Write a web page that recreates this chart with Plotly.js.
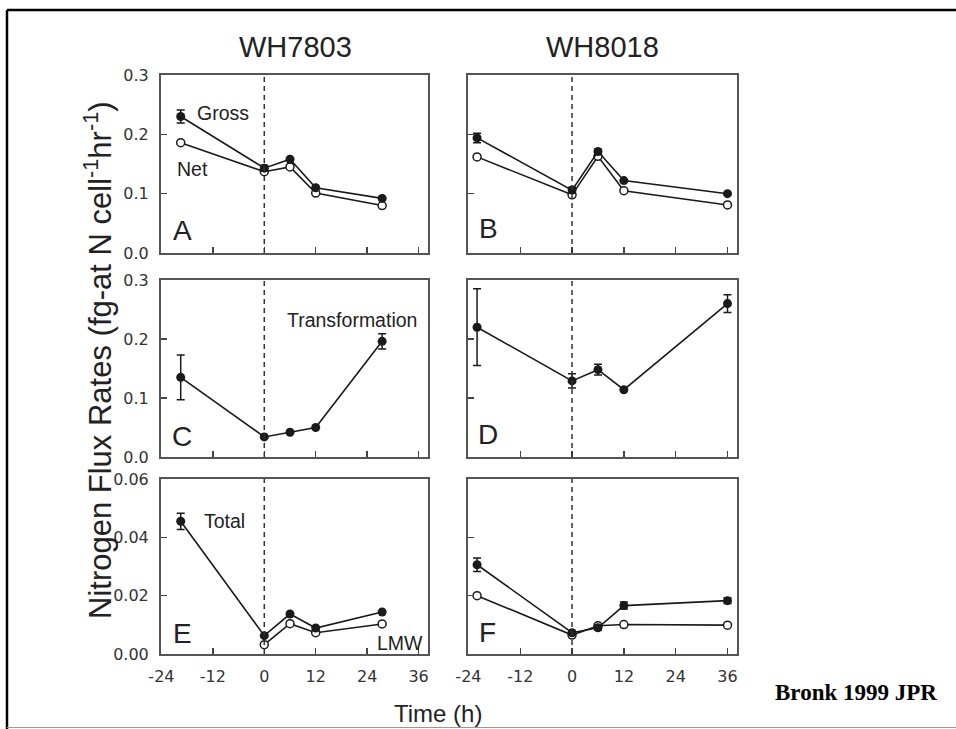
<!DOCTYPE html>
<html>
<head>
<meta charset="utf-8">
<script src="https://cdn.plot.ly/plotly-3.0.1.min.js"></script>
<style>html,body{margin:0;padding:0;background:#fff;}#chart{width:956px;height:729px;}</style>
</head>
<body>
<div id="chart"></div>
<script>
// ---- data ----
const timeA = [-19.5, 0, 6, 12, 27.5];
const grossA = [0.230, 0.143, 0.158, 0.110, 0.092];
const grossAerr = [0.011, 0.005, 0, 0, 0];
const netA = [0.186, 0.137, 0.145, 0.101, 0.080];

const timeB = [-22, 0, 6, 12, 36];
const grossB = [0.194, 0.106, 0.171, 0.122, 0.100];
const grossBerr = [0.008, 0.005, 0.004, 0, 0];
const netB = [0.162, 0.098, 0.163, 0.105, 0.081];

const transC = [0.135, 0.034, 0.042, 0.050, 0.196];
const transCerr = [0.038, 0, 0, 0, 0.013];
const transD = [0.220, 0.129, 0.148, 0.114, 0.260];
const transDerr = [0.065, 0.012, 0.009, 0, 0.015];

const totalE = [0.0455, 0.0063, 0.0137, 0.0089, 0.0144];
const totalEerr = [0.0028, 0, 0, 0, 0];
const lmwE = [null, 0.0032, 0.0104, 0.0073, 0.0103];

const totalF = [0.0306, 0.0073, 0.0090, 0.0166, 0.0183];
const totalFerr = [0.0023, 0.0006, 0.0008, 0.0012, 0.0010];
const lmwF = [0.0200, 0.0065, 0.0097, 0.0101, 0.0099];

const xTicks = [-24, -12, 0, 12, 24, 36];
const yTicksTop = [0, 0.1, 0.2, 0.3];
const yTicksBot = [0, 0.02, 0.04, 0.06];

// ---- styling helpers ----
const W = 956, H = 729;
const px = v => v / W;
const py = v => 1 - v / H;
const INK = '#1a1a1a';

function filled(x, y, err, xa, ya) {
  const t = {x: x, y: y, xaxis: xa, yaxis: ya, type: 'scatter', mode: 'lines+markers',
    line: {color: INK, width: 1.6},
    marker: {symbol: 'circle', size: 9, color: INK},
    connectgaps: true, hoverinfo: 'skip', showlegend: false};
  if (err) t.error_y = {type: 'data', array: err, visible: true, color: INK, thickness: 1.5, width: 4};
  return t;
}
function open(x, y, xa, ya) {
  return {x: x, y: y, xaxis: xa, yaxis: ya, type: 'scatter', mode: 'lines+markers',
    line: {color: INK, width: 1.6},
    marker: {symbol: 'circle', size: 8, color: '#fff', line: {color: INK, width: 1.5}},
    connectgaps: true, hoverinfo: 'skip', showlegend: false};
}

const data = [
  open(timeA, netA, 'x', 'y'),
  filled(timeA, grossA, grossAerr, 'x', 'y'),
  open(timeB, netB, 'x2', 'y2'),
  filled(timeB, grossB, grossBerr, 'x2', 'y2'),
  filled(timeA, transC, transCerr, 'x3', 'y3'),
  filled(timeB, transD, transDerr, 'x4', 'y4'),
  open(timeA, lmwE, 'x5', 'y5'),
  filled(timeA, totalE, totalEerr, 'x5', 'y5'),
  open(timeB, lmwF, 'x6', 'y6'),
  filled(timeB, totalF, totalFerr, 'x6', 'y6')
];

const colX = [[161, 428], [468, 737]];
const rowY = [[75, 253], [280, 457], [479, 654]];
const tickFont = {family: 'DejaVu Sans, Liberation Sans, sans-serif', size: 16, color: '#333'};

function xaxisDef(col, row, anchor) {
  return {domain: [px(colX[col][0]), px(colX[col][1])], anchor: anchor,
    range: [-24.1, 38.2], tickvals: xTicks, ticktext: xTicks.map(String),
    ticks: 'inside', ticklen: 6, tickwidth: 1.5, tickcolor: '#444',
    showline: true, linecolor: '#555', linewidth: 2, mirror: true,
    showgrid: false, zeroline: false, showticklabels: row === 2,
    ticklabelstandoff: 7, tickfont: tickFont, fixedrange: true};
}
function yaxisDef(col, row, anchor) {
  const vals = row === 2 ? yTicksBot : yTicksTop;
  const dec = row === 2 ? 2 : 1;
  return {domain: [py(rowY[row][1]), py(rowY[row][0])], anchor: anchor,
    range: row === 2 ? [0, 0.06] : [0, 0.3], tickvals: vals, ticktext: vals.map(v => v.toFixed(dec)),
    ticks: 'inside', ticklen: 6, tickwidth: 1.5, tickcolor: '#444',
    showline: true, linecolor: '#555', linewidth: 2, mirror: true,
    showgrid: false, zeroline: false, showticklabels: col === 0,
    ticklabelstandoff: 7, tickfont: tickFont, fixedrange: true};
}

const layout = {
  width: W, height: H, margin: {l: 0, r: 0, t: 0, b: 0},
  paper_bgcolor: '#fff', plot_bgcolor: '#fff', showlegend: false,
  xaxis: xaxisDef(0, 0, 'y'), yaxis: yaxisDef(0, 0, 'x'),
  xaxis2: xaxisDef(1, 0, 'y2'), yaxis2: yaxisDef(1, 0, 'x2'),
  xaxis3: xaxisDef(0, 1, 'y3'), yaxis3: yaxisDef(0, 1, 'x3'),
  xaxis4: xaxisDef(1, 1, 'y4'), yaxis4: yaxisDef(1, 1, 'x4'),
  xaxis5: xaxisDef(0, 2, 'y5'), yaxis5: yaxisDef(0, 2, 'x5'),
  xaxis6: xaxisDef(1, 2, 'y6'), yaxis6: yaxisDef(1, 2, 'x6'),
  shapes: [],
  annotations: []
};

// dashed lines at t = 0
['', '2', '3', '4', '5', '6'].forEach(s => {
  layout.shapes.push({type: 'line', xref: 'x' + s, yref: 'y' + s + ' domain', x0: 0, x1: 0, y0: 0, y1: 1,
    line: {color: '#333', width: 1.5, dash: '5px,4px'}});
});
// outer frame
layout.shapes.push({type: 'line', xref: 'paper', yref: 'paper', x0: px(7), x1: 1, y0: py(10), y1: py(10), line: {color: '#000', width: 2.5}});
layout.shapes.push({type: 'line', xref: 'paper', yref: 'paper', x0: px(7), x1: px(7), y0: py(10), y1: 0, line: {color: '#000', width: 2.5}});
layout.shapes.push({type: 'line', xref: 'paper', yref: 'paper', x0: px(7), x1: 1, y0: py(727.5), y1: py(727.5), line: {color: '#999', width: 1.2}});

const sans = 'Liberation Sans, Arial, sans-serif';
function ann(text, x, y, size, opts) {
  return Object.assign({text: text, xref: 'paper', yref: 'paper', x: px(x), y: py(y),
    xanchor: 'center', yanchor: 'middle', showarrow: false,
    font: {family: sans, size: size, color: '#222'}}, opts || {});
}
layout.annotations.push(
  ann('WH7803', 295, 47, 29),
  ann('WH8018', 602, 47, 29),
  ann('A', 182, 230, 28), ann('B', 488, 229, 28),
  ann('C', 182, 436, 28), ann('D', 488, 435, 28),
  ann('E', 182, 633, 28), ann('F', 487, 632, 28),
  ann('Gross', 223, 113, 19.5), ann('Net', 192, 169, 19.5),
  ann('Transformation', 352, 320, 19.5),
  ann('Total', 224, 521, 19.5), ann('LMW', 400, 643, 19.5),
  ann('Time (h)', 438, 713, 24),
  ann('Nitrogen Flux Rates (fg-at N cell<sup>-1</sup>hr<sup>-1</sup>)', 98, 360, 31, {textangle: -90}),
  ann('<b>Bronk 1999 JPR</b>', 856, 692, 23, {font: {family: 'Liberation Serif, Times New Roman, serif', size: 23, color: '#000'}})
);

Plotly.newPlot('chart', data, layout, {staticPlot: true, displayModeBar: false});
</script>
</body>
</html>
